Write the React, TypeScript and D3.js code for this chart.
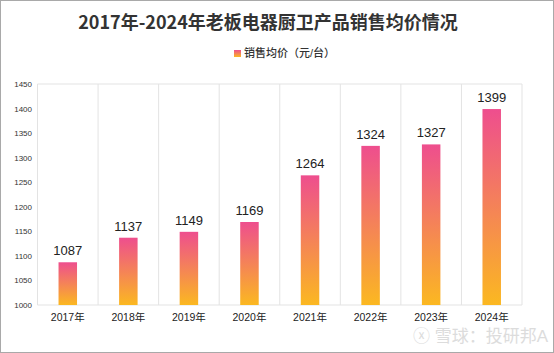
import { useMemo } from "react";
import { scaleBand, scaleLinear } from "d3";

const WIDTH = 554;
const HEIGHT = 353;
const MARGIN = { top: 84, right: 32, bottom: 48, left: 37.5 };

const years = ["2017年", "2018年", "2019年", "2020年", "2021年", "2022年", "2023年", "2024年"];
const prices = [1087, 1137, 1149, 1169, 1264, 1324, 1327, 1399];
const yTicks = [1000, 1050, 1100, 1150, 1200, 1250, 1300, 1350, 1400, 1450];

const FONT = "'Liberation Sans', 'Noto Sans CJK SC', sans-serif";

export default function App() {
  const x = useMemo(
    () => scaleBand<string>().domain(years).range([MARGIN.left, WIDTH - MARGIN.right]),
    []
  );
  const y = useMemo(
    () => scaleLinear().domain([1000, 1450]).range([HEIGHT - MARGIN.bottom, MARGIN.top]),
    []
  );
  const barWidth = 18.5;
  const bottom = HEIGHT - MARGIN.bottom;

  return (
    <div style={{ position: "absolute", left: 0, top: 0 }}>
      <svg width={WIDTH} height={HEIGHT} viewBox={`0 0 ${WIDTH} ${HEIGHT}`} style={{ display: "block", fontFamily: FONT }}>
        <defs>
          <linearGradient id="barFill" x1="0" y1="0" x2="0" y2="1">
            <stop offset="0%" stopColor="#ee4e8e" />
            <stop offset="100%" stopColor="#fbb821" />
          </linearGradient>
        </defs>
        <rect x={0.5} y={0.5} width={WIDTH - 1} height={HEIGHT - 1} fill="#fff" stroke="#a9a9a9" />

        <text x={268} y={29} textAnchor="middle" fontSize={18} fontWeight={600} fill="#333"
          style={{ fontFamily: "'Noto Sans CJK SC', sans-serif" }}>
          2017年-2024年老板电器厨卫产品销售均价情况
        </text>
        <rect x={234} y={50} width={7} height={7} fill="url(#barFill)" />
        <text x={244} y={57} fontSize={11} fontWeight={500} fill="#333">
          销售均价（元/台）
        </text>

        {/* frame and grid */}
        <line x1={MARGIN.left} x2={WIDTH - MARGIN.right} y1={y(1450)} y2={y(1450)} stroke="#e3e3e3" />
        <line x1={MARGIN.left} x2={WIDTH - MARGIN.right} y1={bottom} y2={bottom} stroke="#e3e3e3" />
        {years.map((year) => (
          <line key={year} x1={x(year)} x2={x(year)} y1={y(1450)} y2={bottom} stroke="#e3e3e3" />
        ))}
        <line x1={WIDTH - MARGIN.right} x2={WIDTH - MARGIN.right} y1={y(1450)} y2={bottom} stroke="#e3e3e3" />

        {yTicks.map((tick) => (
          <text key={tick} x={32} y={y(tick) + 3} textAnchor="end" fontSize={8} fill="#333">
            {tick}
          </text>
        ))}

        {years.map((year, index) => {
          const cx = (x(year) ?? 0) + x.bandwidth() / 2;
          const top = y(prices[index]);
          return (
            <g key={year}>
              <rect x={cx - barWidth / 2} y={top} width={barWidth} height={bottom - top} fill="url(#barFill)" />
              <text x={cx} y={top - 7} textAnchor="middle" fontSize={13} fill="#222">
                {prices[index]}
              </text>
              <text x={cx} y={bottom + 16} textAnchor="middle" fontSize={10.5} fill="#222">
                {year}
              </text>
            </g>
          );
        })}

        <text x={548} y={342} textAnchor="end" fontSize={17} fill="#dcdcdc">
          ⓧ 雪球：投研邦A
        </text>
      </svg>
    </div>
  );
}
